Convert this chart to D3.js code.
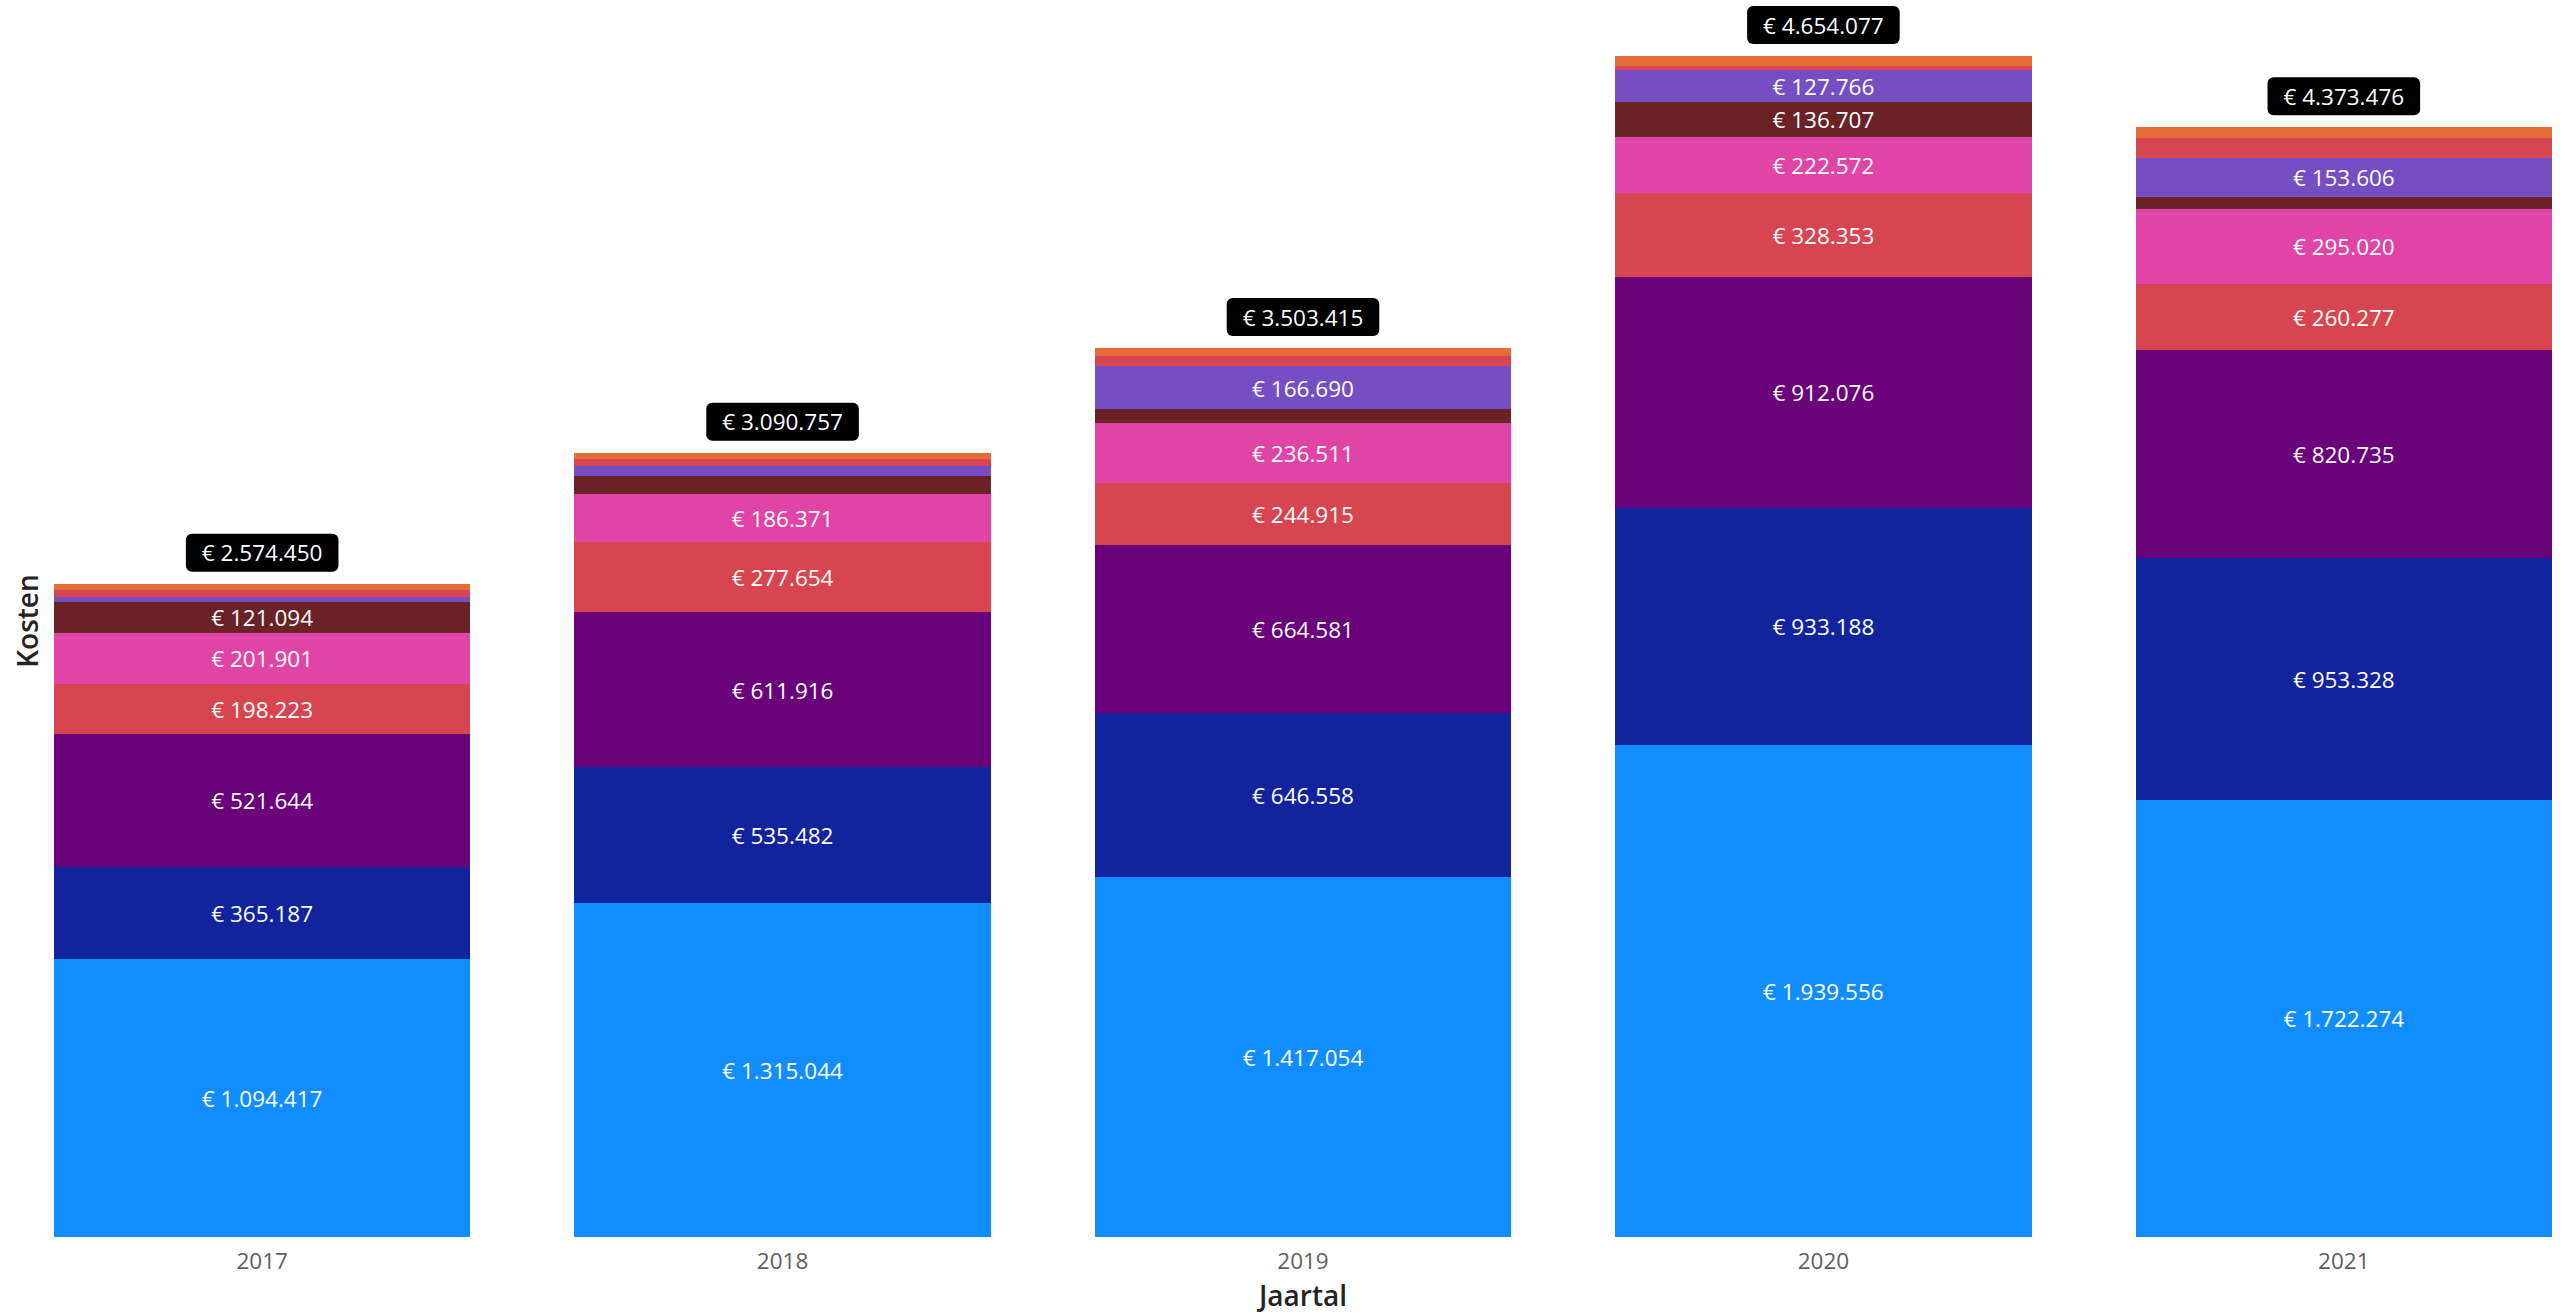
<!DOCTYPE html>
<html>
<head>
<meta charset="utf-8">
<script src="https://cdn.jsdelivr.net/npm/d3@7"></script>
<style>
html,body{margin:0;padding:0;background:#fff;}
svg{display:block;}
text{font-family:"Open Sans","Noto Sans",sans-serif;}
</style>
</head>
<body>
<svg id="chart" width="2563" height="1313"></svg>
<script>
const years = ["2017","2018","2019","2020","2021"];
const seriesNames = ["s1","s2","s3","s4","s5","s6","s7","s8","s9"];
const seriesColors = ["#118DFF","#12239E","#6B007B","#D64550","#E044A7","#6B2227","#744EC2","#D64550","#E66C37"];
const s1 = [1094417, 1315044, 1417054, 1939556, 1722274];
const s2 = [365187, 535482, 646558, 933188, 953328];
const s3 = [521644, 611916, 664581, 912076, 820735];
const s4 = [198223, 277654, 244915, 328353, 260277];
const s5 = [201901, 186371, 236511, 222572, 295020];
const s6 = [121094, 74290, 54206, 136707, 48236];
const s7 = [18984, 38500, 166690, 127766, 153606];
const s8 = [27000, 27000, 42400, 16359, 78800];
const s9 = [26000, 24500, 30500, 37500, 41200];
const totals = [2574450, 3090757, 3503415, 4654077, 4373476];

const allSeries = [s1,s2,s3,s4,s5,s6,s7,s8,s9];
const rows = years.map((y,i) => {
  const r = {year:y};
  seriesNames.forEach((n,k) => r[n] = allSeries[k][i]);
  return r;
});

const svg = d3.select("#chart");
const baseY = 1237, topY = 56;
const x = d3.scaleBand().domain(years).range([54, 2552]).paddingInner(0.2).paddingOuter(0);
const y = d3.scaleLinear().domain([0, d3.max(totals)]).range([baseY, topY]);

const stack = d3.stack().keys(seriesNames)(rows);
const fmt = v => "€ " + d3.format(",")(v).replace(/,/g, ".");

const layers = svg.append("g").attr("shape-rendering", "crispEdges")
  .selectAll("g").data(stack).join("g")
  .attr("fill", (d,i) => seriesColors[i]);

layers.selectAll("rect").data(d => d).join("rect")
  .attr("x", d => x(d.data.year))
  .attr("width", x.bandwidth())
  .attr("y", d => y(d[1]))
  .attr("height", d => y(d[0]) - y(d[1]));

// segment labels
const labelG = svg.append("g");
stack.forEach(layer => {
  layer.forEach(d => {
    const h = y(d[0]) - y(d[1]);
    if (h >= 26) {
      labelG.append("text")
        .attr("x", x(d.data.year) + x.bandwidth()/2)
        .attr("y", (y(d[0]) + y(d[1]))/2)
        .attr("dy", "0.4em")
        .attr("text-anchor", "middle")
        .attr("fill", "#fff")
        .attr("font-size", 22.5)
        .text(fmt(d[1] - d[0]));
    }
  });
});

// total labels
const totG = svg.append("g").selectAll("g").data(years).join("g");
totG.each(function(yr, i) {
  const g = d3.select(this);
  const cx = x(yr) + x.bandwidth()/2;
  const cy = y(totals[i]) - 31;
  const t = g.append("text")
    .attr("x", cx).attr("y", cy).attr("dy", "0.38em")
    .attr("text-anchor", "middle").attr("fill", "#fff")
    .attr("font-size", 22.5)
    .text(fmt(totals[i]));
  const w = t.node().getComputedTextLength();
  g.insert("rect", "text")
    .attr("x", cx - w/2 - 16).attr("y", cy - 19)
    .attr("width", w + 32).attr("height", 38)
    .attr("rx", 6).attr("ry", 6)
    .attr("fill", "#000");
});

// x axis
const xAxis = svg.append("g").attr("transform", `translate(0,${baseY})`)
  .call(d3.axisBottom(x).tickSize(0).tickPadding(16));
xAxis.select(".domain").remove();
xAxis.selectAll("text").attr("font-size", 22.5).attr("fill", "#605E5C")
  .attr("font-family", "'Open Sans','Noto Sans',sans-serif");

svg.append("text")
  .attr("x", (54 + 2552)/2).attr("y", 1306)
  .attr("text-anchor", "middle").attr("fill", "#252423")
  .attr("font-size", 28).attr("font-weight", 600)
  .text("Jaartal");

svg.append("text")
  .attr("transform", "translate(38,621) rotate(-90)")
  .attr("text-anchor", "middle").attr("fill", "#252423")
  .attr("font-size", 28).attr("font-weight", 600)
  .text("Kosten");
</script>
</body>
</html>
